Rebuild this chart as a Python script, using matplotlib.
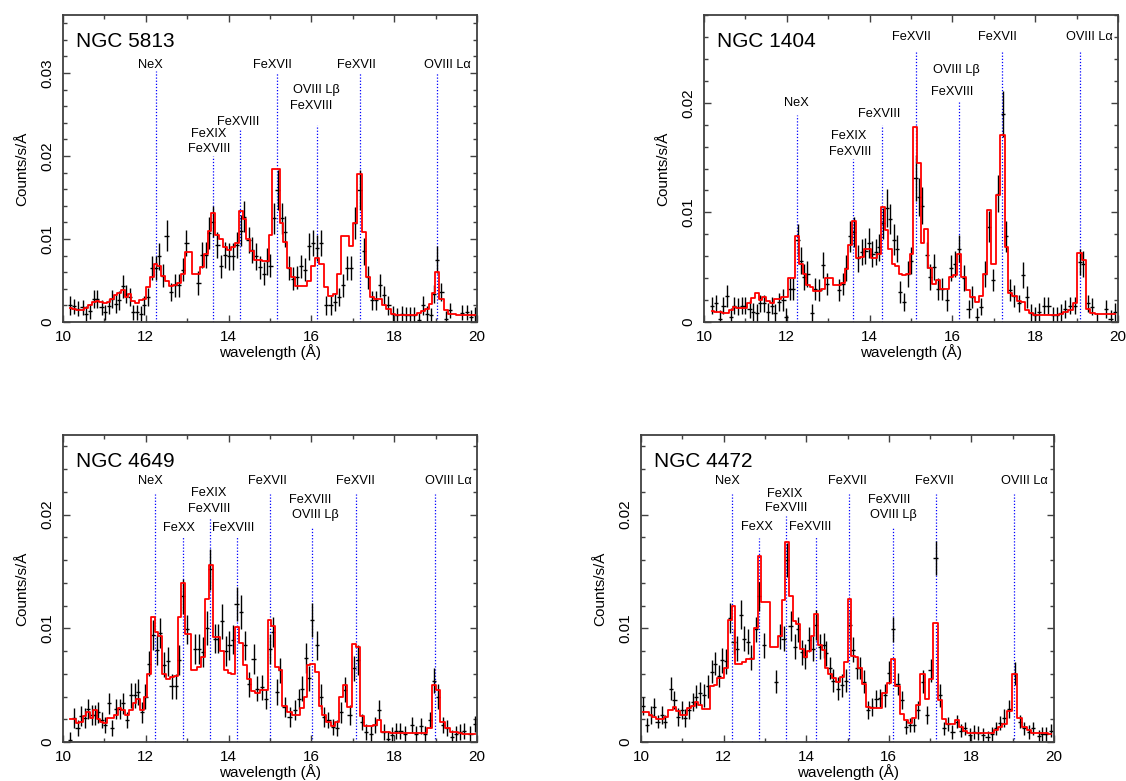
import matplotlib
matplotlib.use("Agg")
import matplotlib.pyplot as plt
from matplotlib.ticker import MultipleLocator, FuncFormatter

plt.rcParams['font.family'] = ['Liberation Sans', 'DejaVu Sans']

# ---------------- NGC 5813 ----------------
wl_5813 = [10.16, 10.26, 10.36, 10.47, 10.56, 10.65, 10.75, 10.83, 10.93, 11.02,
           11.10, 11.19, 11.27, 11.35, 11.44, 11.53, 11.61, 11.69, 11.79, 11.88,
           11.96, 12.06, 12.15, 12.24, 12.32, 12.42, 12.50, 12.60, 12.70, 12.80,
           12.89, 12.98, 13.27, 13.35, 13.45, 13.53, 13.63, 13.73, 13.81, 13.91,
           14.00, 14.10, 14.19, 14.29, 14.38, 14.48, 14.57, 14.66, 14.76, 14.85,
           14.93, 15.01, 15.09, 15.18, 15.28, 15.36, 15.46, 15.56, 15.64, 15.74,
           15.84, 15.94, 16.04, 16.14, 16.24, 16.36, 16.46, 16.56, 16.66, 16.76,
           16.86, 16.96, 17.06, 17.16, 17.26, 17.36, 17.46, 17.56, 17.66, 17.76,
           17.86, 17.96, 18.06, 18.18, 18.28, 18.38, 18.48, 18.60, 18.70, 18.80,
           18.88, 18.95, 19.04, 19.14, 19.24, 19.34, 19.64, 19.76, 19.86, 19.96]
flux_5813 = [0.0020, 0.0019, 0.0016, 0.0018, 0.0010, 0.0013, 0.0028, 0.0028, 0.0018, 0.0012,
             0.0019, 0.0028, 0.0022, 0.0026, 0.0043, 0.0034, 0.0030, 0.0012, 0.0012, 0.0010,
             0.0020, 0.0030, 0.0065, 0.0065, 0.0079, 0.0056, 0.0104, 0.0036, 0.0044, 0.0044,
             0.0063, 0.0095, 0.0047, 0.0081, 0.0081, 0.0107, 0.0121, 0.0093, 0.0067, 0.0081,
             0.0079, 0.0079, 0.0093, 0.0110, 0.0127, 0.0099, 0.0087, 0.0079, 0.0066, 0.0058,
             0.0073, 0.0068, 0.0125, 0.0159, 0.0125, 0.0109, 0.0065, 0.0052, 0.0054, 0.0067,
             0.0063, 0.0091, 0.0095, 0.0089, 0.0095, 0.0020, 0.0020, 0.0024, 0.0030, 0.0044,
             0.0065, 0.0065, 0.0119, 0.0159, 0.0085, 0.0054, 0.0026, 0.0026, 0.0044, 0.0032,
             0.0020, 0.0010, 0.0008, 0.0010, 0.0009, 0.0009, 0.0009, 0.0002, 0.0020, 0.0010,
             0.0008, 0.0034, 0.0075, 0.0036, 0.0004, 0.0014, 0.0011, 0.0012, 0.0006, 0.0009]
err_5813 = [0.0011, 0.0009, 0.0009, 0.0009, 0.0009, 0.0009, 0.0011, 0.0011, 0.0009, 0.0009,
            0.0009, 0.0011, 0.0011, 0.0011, 0.0014, 0.0011, 0.0011, 0.0009, 0.0009, 0.0009,
            0.0011, 0.0011, 0.0014, 0.0014, 0.0016, 0.0014, 0.0019, 0.0011, 0.0014, 0.0014,
            0.0014, 0.0016, 0.0014, 0.0016, 0.0016, 0.0019, 0.0019, 0.0016, 0.0014, 0.0016,
            0.0016, 0.0016, 0.0016, 0.0019, 0.0019, 0.0016, 0.0016, 0.0016, 0.0014, 0.0014,
            0.0016, 0.0014, 0.0019, 0.0024, 0.0019, 0.0019, 0.0014, 0.0014, 0.0014, 0.0014,
            0.0014, 0.0016, 0.0016, 0.0016, 0.0016, 0.0011, 0.0011, 0.0011, 0.0011, 0.0014,
            0.0014, 0.0014, 0.0019, 0.0024, 0.0016, 0.0014, 0.0011, 0.0011, 0.0014, 0.0011,
            0.0011, 0.0009, 0.0009, 0.0009, 0.0009, 0.0009, 0.0009, 0.0009, 0.0011, 0.0009,
            0.0009, 0.0011, 0.0016, 0.0011, 0.0009, 0.0009, 0.0009, 0.0009, 0.0009, 0.0009]
model_5813 = [0.0017, 0.0016, 0.0015, 0.0015, 0.0017, 0.0021, 0.0024, 0.0025, 0.0024, 0.0023,
              0.0024, 0.0028, 0.0033, 0.0035, 0.0039, 0.0030, 0.0034, 0.0025, 0.0023, 0.0026,
              0.0028, 0.0042, 0.0054, 0.0070, 0.0068, 0.0055, 0.0050, 0.0043, 0.0045, 0.0047,
              0.0058, 0.0084, 0.0058, 0.0066, 0.0082, 0.0110, 0.0131, 0.0105, 0.0100, 0.0090,
              0.0087, 0.0090, 0.0095, 0.0134, 0.0124, 0.0100, 0.0085, 0.0075, 0.0075, 0.0074,
              0.0074, 0.0105, 0.0184, 0.0184, 0.0119, 0.0096, 0.0065, 0.0054, 0.0043, 0.0043,
              0.0043, 0.0050, 0.0067, 0.0077, 0.0070, 0.0042, 0.0031, 0.0034, 0.0058, 0.0104,
              0.0104, 0.0091, 0.0119, 0.0178, 0.0109, 0.0054, 0.0030, 0.0028, 0.0028, 0.0020,
              0.0016, 0.0010, 0.0009, 0.0009, 0.0009, 0.0009, 0.0009, 0.0011, 0.0013, 0.0016,
              0.0022, 0.0035, 0.0060, 0.0028, 0.0014, 0.0010, 0.0008, 0.0008, 0.0008, 0.0008]
lines_5813 = [12.24, 13.61, 14.27, 15.16, 16.14, 17.16, 19.02]
tops_5813 = [0.0302, 0.0200, 0.0232, 0.0300, 0.0238, 0.0300, 0.0300]
labx_5813 = [12.11, 13.51, 13.52, 14.23, 15.05, 16.12, 16.00, 17.08, 19.28]
laby_5813 = [0.0310, 0.0226, 0.0208, 0.0241, 0.0310, 0.0280, 0.0260, 0.0310, 0.0310]
labt_5813 = ['NeX', 'FeXIX', 'FeXVIII', 'FeXVIII', 'FeXVII', 'OVIII L\u03b2', 'FeXVIII',
             'FeXVII', 'OVIII L\u03b1']

# ---------------- NGC 1404 ----------------
wl_1404 = [10.20, 10.29, 10.38, 10.47, 10.56, 10.65, 10.73, 10.82, 10.91, 11.00,
           11.10, 11.19, 11.28, 11.36, 11.46, 11.55, 11.64, 11.72, 11.82, 11.92,
           11.98, 12.08, 12.16, 12.26, 12.34, 12.42, 12.50, 12.60, 12.69, 12.79,
           12.87, 12.96, 13.26, 13.35, 13.44, 13.53, 13.62, 13.73, 13.81, 13.90,
           13.98, 14.07, 14.15, 14.23, 14.33, 14.41, 14.50, 14.58, 14.67, 14.73,
           14.83, 14.93, 15.01, 15.11, 15.19, 15.27, 15.38, 15.46, 15.56, 15.66,
           15.74, 15.86, 15.96, 16.06, 16.16, 16.27, 16.39, 16.48, 16.59, 16.69,
           16.79, 16.89, 16.99, 17.10, 17.22, 17.30, 17.40, 17.50, 17.60, 17.70,
           17.80, 17.91, 18.00, 18.10, 18.22, 18.32, 18.43, 18.53, 18.63, 18.73,
           18.85, 18.96, 19.08, 19.16, 19.27, 19.38, 19.50, 19.72, 19.82, 19.92]
flux_1404 = [0.0015, 0.0017, 0.0003, 0.0015, 0.0024, 0.0005, 0.0015, 0.0014, 0.0015, 0.0015,
             0.0012, 0.0009, 0.0008, 0.0017, 0.0017, 0.0009, 0.0015, 0.0008, 0.0018, 0.0020,
             0.0005, 0.0030, 0.0030, 0.0075, 0.0056, 0.0041, 0.0044, 0.0008, 0.0030, 0.0029,
             0.0052, 0.0035, 0.0029, 0.0035, 0.0049, 0.0078, 0.0082, 0.0058, 0.0064, 0.0065,
             0.0072, 0.0062, 0.0064, 0.0068, 0.0090, 0.0104, 0.0094, 0.0075, 0.0067, 0.0027,
             0.0018, 0.0044, 0.0056, 0.0131, 0.0114, 0.0106, 0.0061, 0.0041, 0.0050, 0.0030,
             0.0030, 0.0020, 0.0049, 0.0053, 0.0067, 0.0040, 0.0012, 0.0023, 0.0005, 0.0014,
             0.0044, 0.0087, 0.0038, 0.0117, 0.0190, 0.0078, 0.0029, 0.0024, 0.0017, 0.0043,
             0.0023, 0.0008, 0.0006, 0.0009, 0.0015, 0.0015, 0.0006, 0.0006, 0.0008, 0.0012,
             0.0015, 0.0015, 0.0055, 0.0053, 0.0017, 0.0014, 0.0000, 0.0012, 0.0003, 0.0009]
err_1404 = [0.0008, 0.0008, 0.0008, 0.0008, 0.0010, 0.0008, 0.0008, 0.0008, 0.0008, 0.0008,
            0.0008, 0.0008, 0.0008, 0.0008, 0.0008, 0.0008, 0.0008, 0.0008, 0.0008, 0.0010,
            0.0008, 0.0010, 0.0010, 0.0014, 0.0012, 0.0012, 0.0012, 0.0008, 0.0010, 0.0010,
            0.0012, 0.0010, 0.0010, 0.0010, 0.0012, 0.0014, 0.0014, 0.0012, 0.0012, 0.0012,
            0.0014, 0.0012, 0.0012, 0.0012, 0.0014, 0.0017, 0.0014, 0.0014, 0.0012, 0.0010,
            0.0008, 0.0012, 0.0012, 0.0021, 0.0017, 0.0017, 0.0012, 0.0012, 0.0012, 0.0010,
            0.0010, 0.0010, 0.0012, 0.0012, 0.0012, 0.0012, 0.0008, 0.0010, 0.0008, 0.0008,
            0.0012, 0.0014, 0.0010, 0.0017, 0.0021, 0.0014, 0.0010, 0.0010, 0.0008, 0.0012,
            0.0010, 0.0008, 0.0008, 0.0008, 0.0008, 0.0008, 0.0008, 0.0008, 0.0008, 0.0008,
            0.0008, 0.0008, 0.0012, 0.0012, 0.0008, 0.0008, 0.0008, 0.0008, 0.0008, 0.0008]
model_1404 = [0.0010, 0.0009, 0.0009, 0.0008, 0.0008, 0.0011, 0.0014, 0.0013, 0.0013, 0.0013,
              0.0017, 0.0022, 0.0026, 0.0020, 0.0023, 0.0019, 0.0017, 0.0021, 0.0021, 0.0023,
              0.0023, 0.0040, 0.0040, 0.0078, 0.0053, 0.0044, 0.0034, 0.0032, 0.0028, 0.0028,
              0.0030, 0.0040, 0.0034, 0.0036, 0.0048, 0.0070, 0.0092, 0.0058, 0.0059, 0.0067,
              0.0067, 0.0058, 0.0058, 0.0062, 0.0105, 0.0084, 0.0067, 0.0053, 0.0051, 0.0044,
              0.0043, 0.0044, 0.0062, 0.0178, 0.0145, 0.0072, 0.0085, 0.0049, 0.0035, 0.0038,
              0.0030, 0.0030, 0.0041, 0.0043, 0.0062, 0.0041, 0.0029, 0.0023, 0.0018, 0.0024,
              0.0044, 0.0102, 0.0053, 0.0116, 0.0171, 0.0068, 0.0026, 0.0024, 0.0019, 0.0018,
              0.0011, 0.0008, 0.0006, 0.0006, 0.0006, 0.0006, 0.0006, 0.0006, 0.0007, 0.0009,
              0.0011, 0.0017, 0.0063, 0.0057, 0.0012, 0.0008, 0.0007, 0.0007, 0.0007, 0.0007]
lines_1404 = [12.24, 13.60, 14.31, 15.11, 16.16, 17.21, 19.08]
tops_1404 = [0.0189, 0.0149, 0.0180, 0.0247, 0.0201, 0.0247, 0.0247]
labx_1404 = [12.22, 13.50, 13.52, 14.23, 15.01, 16.10, 16.00, 17.10, 19.30]
laby_1404 = [0.0200, 0.0170, 0.0155, 0.0190, 0.0260, 0.0230, 0.0210, 0.0260, 0.0260]
labt_1404 = ['NeX', 'FeXIX', 'FeXVIII', 'FeXVIII', 'FeXVII', 'OVIII L\u03b2', 'FeXVIII',
             'FeXVII', 'OVIII L\u03b1']

# ---------------- NGC 4649 ----------------
wl_4649 = [10.16, 10.26, 10.35, 10.44, 10.52, 10.60, 10.69, 10.77, 10.85, 10.93,
           11.02, 11.10, 11.19, 11.27, 11.37, 11.45, 11.55, 11.64, 11.73, 11.81,
           11.91, 11.99, 12.08, 12.18, 12.26, 12.35, 12.44, 12.54, 12.62, 12.72,
           12.81, 12.89, 13.00, 13.19, 13.28, 13.37, 13.47, 13.56, 13.67, 13.75,
           13.83, 13.93, 14.02, 14.11, 14.19, 14.29, 14.39, 14.49, 14.60, 14.69,
           14.80, 14.90, 14.99, 15.07, 15.16, 15.25, 15.35, 15.47, 15.60, 15.69,
           15.77, 15.86, 15.93, 16.02, 16.13, 16.22, 16.31, 16.41, 16.51, 16.62,
           16.72, 16.82, 16.92, 17.02, 17.12, 17.23, 17.32, 17.43, 17.54, 17.63,
           17.74, 17.84, 17.94, 18.04, 18.15, 18.25, 18.43, 18.53, 18.64, 18.74,
           18.86, 18.96, 19.06, 19.17, 19.28, 19.39, 19.49, 19.59, 19.69, 19.84, 19.96]
flux_4649 = [0.0002, 0.0021, 0.0012, 0.0023, 0.0021, 0.0029, 0.0024, 0.0024, 0.0026, 0.0019,
             0.0015, 0.0034, 0.0012, 0.0029, 0.0029, 0.0034, 0.0019, 0.0041, 0.0041, 0.0044,
             0.0026, 0.0040, 0.0069, 0.0094, 0.0081, 0.0096, 0.0068, 0.0071, 0.0049, 0.0049,
             0.0072, 0.0128, 0.0099, 0.0082, 0.0082, 0.0079, 0.0100, 0.0152, 0.0091, 0.0091,
             0.0106, 0.0080, 0.0085, 0.0090, 0.0121, 0.0114, 0.0085, 0.0051, 0.0073, 0.0047,
             0.0048, 0.0038, 0.0082, 0.0097, 0.0044, 0.0063, 0.0031, 0.0022, 0.0028, 0.0038,
             0.0047, 0.0074, 0.0056, 0.0107, 0.0085, 0.0040, 0.0022, 0.0019, 0.0013, 0.0012,
             0.0026, 0.0046, 0.0024, 0.0065, 0.0072, 0.0018, 0.0009, 0.0007, 0.0015, 0.0028,
             0.0009, 0.0003, 0.0006, 0.0010, 0.0010, 0.0007, 0.0015, 0.0007, 0.0014, 0.0007,
             0.0019, 0.0054, 0.0040, 0.0015, 0.0012, 0.0004, 0.0007, 0.0009, 0.0010, 0.0007, 0.0016]
err_4649 = [0.0007, 0.0009, 0.0007, 0.0009, 0.0009, 0.0009, 0.0009, 0.0009, 0.0009, 0.0007,
            0.0007, 0.0009, 0.0007, 0.0009, 0.0009, 0.0009, 0.0007, 0.0011, 0.0011, 0.0011,
            0.0009, 0.0011, 0.0011, 0.0013, 0.0013, 0.0013, 0.0011, 0.0013, 0.0011, 0.0011,
            0.0013, 0.0015, 0.0013, 0.0013, 0.0013, 0.0013, 0.0015, 0.0018, 0.0013, 0.0013,
            0.0015, 0.0013, 0.0013, 0.0013, 0.0015, 0.0015, 0.0013, 0.0011, 0.0013, 0.0011,
            0.0011, 0.0009, 0.0013, 0.0013, 0.0011, 0.0011, 0.0009, 0.0009, 0.0009, 0.0009,
            0.0011, 0.0013, 0.0011, 0.0015, 0.0013, 0.0011, 0.0009, 0.0007, 0.0007, 0.0007,
            0.0009, 0.0011, 0.0009, 0.0011, 0.0013, 0.0007, 0.0007, 0.0007, 0.0007, 0.0009,
            0.0007, 0.0007, 0.0007, 0.0007, 0.0007, 0.0007, 0.0007, 0.0007, 0.0007, 0.0007,
            0.0007, 0.0011, 0.0011, 0.0007, 0.0007, 0.0007, 0.0007, 0.0007, 0.0007, 0.0007, 0.0007]
model_4649 = [0.0020, 0.0020, 0.0017, 0.0018, 0.0023, 0.0026, 0.0021, 0.0028, 0.0020, 0.0018,
              0.0017, 0.0021, 0.0021, 0.0024, 0.0030, 0.0028, 0.0024, 0.0028, 0.0034, 0.0038,
              0.0028, 0.0040, 0.0060, 0.0110, 0.0097, 0.0093, 0.0060, 0.0055, 0.0057, 0.0058,
              0.0110, 0.0140, 0.0095, 0.0063, 0.0066, 0.0075, 0.0126, 0.0156, 0.0092, 0.0092,
              0.0080, 0.0063, 0.0061, 0.0060, 0.0101, 0.0087, 0.0068, 0.0055, 0.0045, 0.0043,
              0.0046, 0.0046, 0.0107, 0.0102, 0.0066, 0.0063, 0.0032, 0.0026, 0.0024, 0.0024,
              0.0030, 0.0040, 0.0068, 0.0069, 0.0062, 0.0032, 0.0024, 0.0018, 0.0014, 0.0018,
              0.0040, 0.0050, 0.0031, 0.0086, 0.0084, 0.0023, 0.0014, 0.0014, 0.0015, 0.0019,
              0.0009, 0.0009, 0.0008, 0.0008, 0.0008, 0.0008, 0.0008, 0.0008, 0.0008, 0.0008,
              0.0012, 0.0050, 0.0046, 0.0018, 0.0012, 0.0009, 0.0009, 0.0008, 0.0007, 0.0007, 0.0007]
lines_4649 = [12.22, 12.89, 13.56, 14.21, 15.00, 16.02, 17.08, 18.99]
tops_4649 = [0.0218, 0.0181, 0.0197, 0.0181, 0.0218, 0.0189, 0.0218, 0.0218]
labx_4649 = [12.11, 12.80, 13.51, 13.52, 14.11, 14.93, 15.96, 16.10, 17.07, 19.30]
laby_4649 = [0.0230, 0.0188, 0.0219, 0.0205, 0.0188, 0.0230, 0.0213, 0.0200, 0.0230, 0.0230]
labt_4649 = ['NeX', 'FeXX', 'FeXIX', 'FeXVIII', 'FeXVIII', 'FeXVII', 'FeXVIII',
             'OVIII L\u03b2', 'FeXVII', 'OVIII L\u03b1']

# ---------------- NGC 4472 ----------------
wl_4472 = [10.05, 10.14, 10.23, 10.31, 10.40, 10.51, 10.59, 10.72, 10.81, 10.90,
           10.99, 11.07, 11.16, 11.25, 11.34, 11.42, 11.53, 11.62, 11.71, 11.80,
           11.89, 11.97, 12.06, 12.15, 12.24, 12.32, 12.41, 12.50, 12.59, 12.67,
           12.78, 12.86, 12.97, 13.26, 13.36, 13.45, 13.54, 13.62, 13.72, 13.80,
           13.89, 13.98, 14.07, 14.16, 14.24, 14.33, 14.42, 14.48, 14.57, 14.66,
           14.76, 14.86, 14.96, 15.05, 15.14, 15.22, 15.31, 15.40, 15.50, 15.59,
           15.70, 15.79, 15.90, 16.01, 16.11, 16.21, 16.31, 16.42, 16.51, 16.60,
           16.71, 16.82, 16.93, 17.01, 17.13, 17.23, 17.34, 17.43, 17.54, 17.64,
           17.74, 17.84, 17.96, 18.06, 18.17, 18.28, 18.39, 18.50, 18.60, 18.70,
           18.80, 18.92, 19.05, 19.17, 19.28, 19.39, 19.50, 19.63, 19.72, 19.81, 19.92]
flux_4472 = [0.0032, 0.0015, 0.0024, 0.0031, 0.0018, 0.0024, 0.0018, 0.0047, 0.0037, 0.0022,
             0.0028, 0.0021, 0.0028, 0.0035, 0.0040, 0.0043, 0.0041, 0.0049, 0.0062, 0.0069,
             0.0058, 0.0072, 0.0071, 0.0109, 0.0088, 0.0082, 0.0112, 0.0091, 0.0088, 0.0074,
             0.0099, 0.0128, 0.0085, 0.0053, 0.0093, 0.0091, 0.0160, 0.0102, 0.0084, 0.0099,
             0.0079, 0.0075, 0.0090, 0.0082, 0.0103, 0.0084, 0.0085, 0.0078, 0.0065, 0.0054,
             0.0047, 0.0050, 0.0054, 0.0103, 0.0081, 0.0065, 0.0065, 0.0053, 0.0028, 0.0031,
             0.0038, 0.0039, 0.0041, 0.0061, 0.0099, 0.0051, 0.0037, 0.0013, 0.0015, 0.0015,
             0.0028, 0.0053, 0.0024, 0.0063, 0.0162, 0.0041, 0.0012, 0.0016, 0.0009, 0.0018,
             0.0010, 0.0012, 0.0006, 0.0009, 0.0008, 0.0006, 0.0004, 0.0007, 0.0012, 0.0017,
             0.0021, 0.0029, 0.0060, 0.0018, 0.0012, 0.0009, 0.0012, 0.0005, 0.0007, 0.0007, 0.0010]
err_4472 = [0.0008, 0.0006, 0.0008, 0.0008, 0.0006, 0.0008, 0.0006, 0.0010, 0.0008, 0.0008,
            0.0008, 0.0008, 0.0008, 0.0008, 0.0010, 0.0010, 0.0010, 0.0010, 0.0010, 0.0010,
            0.0010, 0.0011, 0.0011, 0.0013, 0.0011, 0.0011, 0.0013, 0.0011, 0.0011, 0.0011,
            0.0011, 0.0013, 0.0011, 0.0010, 0.0011, 0.0011, 0.0015, 0.0013, 0.0011, 0.0011,
            0.0011, 0.0011, 0.0011, 0.0011, 0.0013, 0.0011, 0.0011, 0.0011, 0.0010, 0.0010,
            0.0010, 0.0010, 0.0010, 0.0013, 0.0011, 0.0010, 0.0010, 0.0010, 0.0008, 0.0008,
            0.0008, 0.0008, 0.0010, 0.0010, 0.0011, 0.0010, 0.0008, 0.0006, 0.0006, 0.0006,
            0.0008, 0.0010, 0.0008, 0.0010, 0.0015, 0.0010, 0.0006, 0.0006, 0.0006, 0.0006,
            0.0006, 0.0006, 0.0006, 0.0006, 0.0006, 0.0006, 0.0006, 0.0006, 0.0006, 0.0006,
            0.0008, 0.0008, 0.0010, 0.0006, 0.0006, 0.0006, 0.0006, 0.0006, 0.0006, 0.0006, 0.0006]
model_4472 = [0.0026, 0.0026, 0.0024, 0.0022, 0.0020, 0.0020, 0.0022, 0.0028, 0.0031, 0.0027,
              0.0024, 0.0024, 0.0030, 0.0032, 0.0035, 0.0033, 0.0029, 0.0029, 0.0049, 0.0050,
              0.0056, 0.0056, 0.0065, 0.0107, 0.0120, 0.0069, 0.0069, 0.0070, 0.0073, 0.0073,
              0.0100, 0.0164, 0.0123, 0.0084, 0.0093, 0.0125, 0.0176, 0.0128, 0.0106, 0.0104,
              0.0082, 0.0075, 0.0080, 0.0093, 0.0113, 0.0085, 0.0081, 0.0065, 0.0060, 0.0056,
              0.0053, 0.0057, 0.0070, 0.0126, 0.0076, 0.0075, 0.0065, 0.0051, 0.0031, 0.0030,
              0.0030, 0.0030, 0.0043, 0.0052, 0.0073, 0.0049, 0.0025, 0.0019, 0.0017, 0.0021,
              0.0033, 0.0060, 0.0038, 0.0055, 0.0105, 0.0037, 0.0020, 0.0016, 0.0016, 0.0019,
              0.0013, 0.0010, 0.0008, 0.0008, 0.0008, 0.0008, 0.0008, 0.0008, 0.0011, 0.0013,
              0.0016, 0.0027, 0.0060, 0.0021, 0.0013, 0.0011, 0.0008, 0.0008, 0.0008, 0.0008, 0.0007]
lines_4472 = [12.21, 12.86, 13.52, 14.24, 15.03, 16.11, 17.13, 19.04]
tops_4472 = [0.0218, 0.0179, 0.0199, 0.0181, 0.0218, 0.0189, 0.0218, 0.0218]
labx_4472 = [12.10, 12.80, 13.49, 13.51, 14.10, 15.00, 16.00, 16.10, 17.10, 19.29]
laby_4472 = [0.0230, 0.0189, 0.0218, 0.0206, 0.0189, 0.0230, 0.0213, 0.0200, 0.0230, 0.0230]
labt_4472 = ['NeX', 'FeXX', 'FeXIX', 'FeXVIII', 'FeXVIII', 'FeXVII', 'FeXVIII',
             'OVIII L\u03b2', 'FeXVII', 'OVIII L\u03b1']


def draw_panel(ax, name, wl, flux, err, model, lines, tops, labx, laby, labt, ymax):
    # emission line markers
    ax.vlines(lines, 0, tops, colors='blue', linestyles=(0, (1, 1.5)), lw=0.9, zorder=1)
    for x, y, t in zip(labx, laby, labt):
        ax.text(x, y, t, ha='center', va='center', fontsize=9.2)

    # data and model
    ax.errorbar(wl, flux, xerr=0.05, yerr=err, fmt='none', ecolor='black',
                elinewidth=1.0, capsize=0, zorder=2)
    ax.step(wl, model, where='mid', color='red', lw=1.3, zorder=3)

    ax.text(0.031, 0.896, name, transform=ax.transAxes, fontsize=15,
            ha='left', va='baseline')

    ax.set_xlim(10, 20)
    ax.set_ylim(0, ymax)
    ax.xaxis.set_major_locator(MultipleLocator(2))
    ax.xaxis.set_minor_locator(MultipleLocator(1))
    ax.yaxis.set_major_locator(MultipleLocator(0.01))
    ax.yaxis.set_minor_locator(MultipleLocator(0.002))
    ax.yaxis.set_major_formatter(FuncFormatter(lambda v, p: '0' if abs(v) < 1e-9 else '%g' % v))

    ax.tick_params(which='both', direction='in', top=True, right=True,
                   color='#404040', labelsize=11)
    ax.tick_params(which='major', length=5, width=1.0)
    ax.tick_params(which='minor', length=3, width=1.0)
    ax.tick_params(axis='x', pad=5.5)
    ax.tick_params(axis='y', pad=6, labelrotation=90)
    for lab in ax.get_yticklabels():
        lab.set_va('center')
    for s in ax.spines.values():
        s.set_color('#404040')
        s.set_linewidth(1.3)

    ax.set_xlabel('wavelength (\u00c5)', fontsize=11, labelpad=0)
    ax.set_ylabel('Counts/s/\u00c5', fontsize=11, labelpad=8)


fig = plt.figure(figsize=(11.26, 7.81), dpi=100)

ax1 = fig.add_axes([0.0560, 0.5877, 0.3677, 0.3931])
ax2 = fig.add_axes([0.6252, 0.5877, 0.3677, 0.3931])
ax3 = fig.add_axes([0.0560, 0.0499, 0.3677, 0.3931])
ax4 = fig.add_axes([0.5693, 0.0499, 0.3668, 0.3931])

draw_panel(ax1, 'NGC 5813', wl_5813, flux_5813, err_5813, model_5813,
           lines_5813, tops_5813, labx_5813, laby_5813, labt_5813, 0.037)
draw_panel(ax2, 'NGC 1404', wl_1404, flux_1404, err_1404, model_1404,
           lines_1404, tops_1404, labx_1404, laby_1404, labt_1404, 0.028)
draw_panel(ax3, 'NGC 4649', wl_4649, flux_4649, err_4649, model_4649,
           lines_4649, tops_4649, labx_4649, laby_4649, labt_4649, 0.027)
draw_panel(ax4, 'NGC 4472', wl_4472, flux_4472, err_4472, model_4472,
           lines_4472, tops_4472, labx_4472, laby_4472, labt_4472, 0.027)

fig.savefig('out.png', dpi=100)
